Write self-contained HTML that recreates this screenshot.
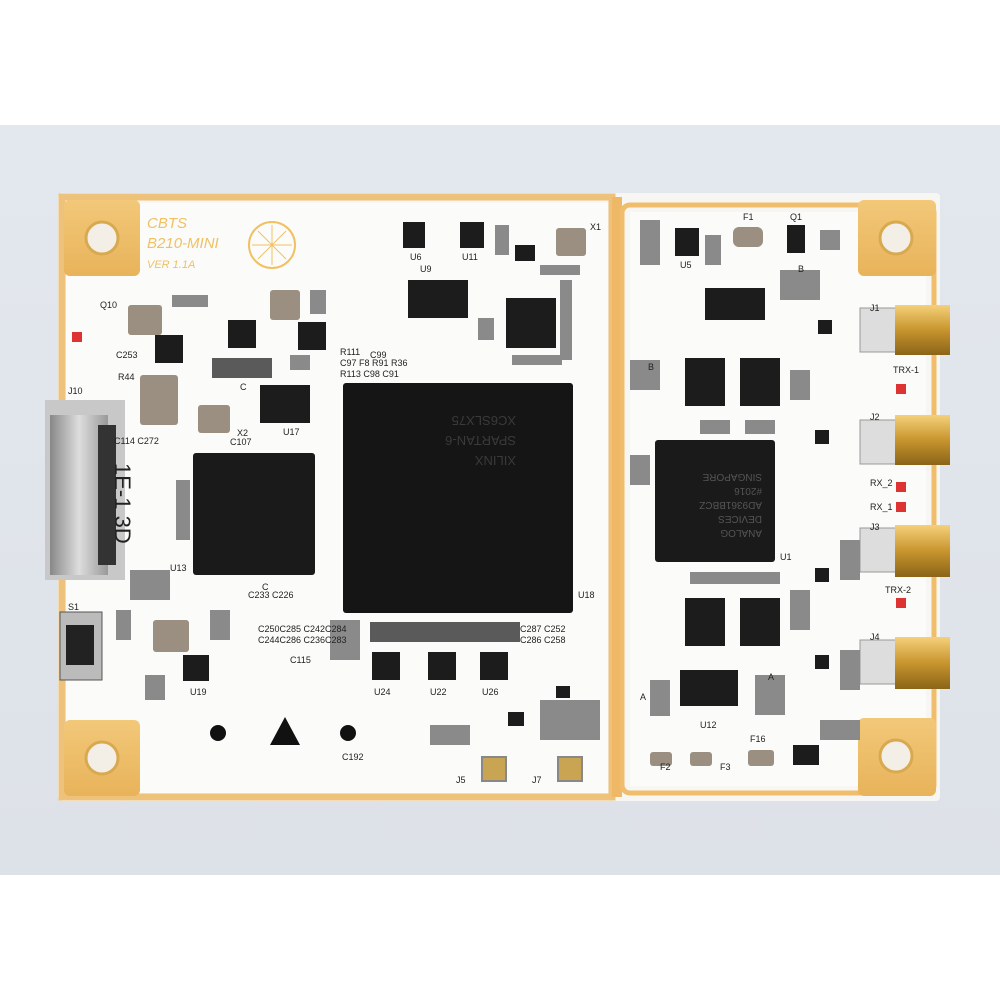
<!DOCTYPE html>
<html><head><meta charset="utf-8"><style>
html,body{margin:0;padding:0;background:#fff;}
svg{display:block}
text{font-family:"Liberation Sans",sans-serif;}
</style></head><body>
<svg width="1000" height="1000" viewBox="0 0 1000 1000" xmlns="http://www.w3.org/2000/svg">
<defs>
<linearGradient id="bg" x1="0" y1="0" x2="0" y2="1"><stop offset="0" stop-color="#e3e8ee"/><stop offset="1" stop-color="#dde2e8"/></linearGradient>
<linearGradient id="gold" x1="0" y1="0" x2="0" y2="1"><stop offset="0" stop-color="#f2c879"/><stop offset="1" stop-color="#e8b35a"/></linearGradient>
<linearGradient id="sma" x1="0" y1="0" x2="0" y2="1"><stop offset="0" stop-color="#f5d07a"/><stop offset="0.5" stop-color="#c8952e"/><stop offset="1" stop-color="#8a6418"/></linearGradient>
<linearGradient id="usb" x1="0" y1="0" x2="1" y2="0"><stop offset="0" stop-color="#888"/><stop offset="0.5" stop-color="#ddd"/><stop offset="1" stop-color="#999"/></linearGradient>
</defs>
<rect width="1000" height="1000" fill="#fff"/>
<rect y="125" width="1000" height="750" fill="url(#bg)"/>
<rect x="58" y="193" width="882" height="608" rx="4" fill="#f7f6f2"/>
<rect x="62" y="197" width="550" height="600" fill="none" stroke="#eec27a" stroke-width="7"/>
<rect x="612" y="197" width="10" height="600" fill="#eeb867"/>
<rect x="622" y="205" width="312" height="588" rx="8" fill="none" stroke="#efbd6c" stroke-width="5"/>
<rect x="630" y="212" width="296" height="574" fill="#fbfbf9"/>
<rect x="66" y="203" width="542" height="590" fill="#fbfbf9"/>
<g fill="url(#gold)">
<rect x="64" y="200" width="76" height="76" rx="6"/>
<rect x="858" y="200" width="78" height="76" rx="6"/>
<rect x="64" y="720" width="76" height="76" rx="6"/>
<rect x="858" y="718" width="78" height="78" rx="6"/>
</g>
<g fill="#f3efe6" stroke="#d9a950" stroke-width="3">
<circle cx="102" cy="238" r="16"/><circle cx="896" cy="238" r="16"/>
<circle cx="102" cy="758" r="16"/><circle cx="896" cy="756" r="16"/>
</g>
<text x="147" y="228" font-size="15" fill="#f0c063" font-style="italic">CBTS</text>
<text x="147" y="248" font-size="15" fill="#f0c063" font-style="italic">B210-MINI</text>
<text x="147" y="268" font-size="11" fill="#f0c063" font-style="italic">VER 1.1A</text>
<circle cx="272" cy="245" r="23" fill="none" stroke="#f0c063" stroke-width="2"/>
<path d="M252 245 H292 M272 225 V265 M258 231 L286 259 M258 259 L286 231" stroke="#f0c063" stroke-width="1" fill="none"/>
<rect x="343" y="383" width="230" height="230" rx="3" fill="#151515"/>
<g fill="#3a3a3a" font-size="13" transform="rotate(180 458 498)">
<text x="400" y="540">XILINX</text><text x="400" y="560">SPARTAN-6</text><text x="400" y="580">XC6SLX75</text>
</g>
<rect x="193" y="453" width="122" height="122" rx="3" fill="#1a1a1a"/>
<rect x="655" y="440" width="120" height="122" rx="3" fill="#1a1a1a"/>
<g fill="#555" font-size="10" transform="rotate(180 715 500)">
<text x="668" y="470">ANALOG</text><text x="668" y="484">DEVICES</text><text x="668" y="498">AD9361BBCZ</text><text x="668" y="512">#2016</text><text x="668" y="526">SINGAPORE</text>
</g>
<rect x="45" y="400" width="80" height="180" fill="#c8c8c8"/>
<rect x="50" y="415" width="58" height="160" fill="url(#usb)"/>
<rect x="98" y="425" width="18" height="140" fill="#333"/>
<text x="58" y="440" font-size="22" fill="#222" transform="rotate(90 75 480)">1E-1 3D</text>
<g>
<rect x="860" y="308" width="40" height="44" fill="#ddd" stroke="#999"/><rect x="895" y="305" width="55" height="50" fill="url(#sma)"/>
<rect x="860" y="420" width="40" height="44" fill="#ddd" stroke="#999"/><rect x="895" y="415" width="55" height="50" fill="url(#sma)"/>
<rect x="860" y="528" width="40" height="44" fill="#ddd" stroke="#999"/><rect x="895" y="525" width="55" height="52" fill="url(#sma)"/>
<rect x="860" y="640" width="40" height="44" fill="#ddd" stroke="#999"/><rect x="895" y="637" width="55" height="52" fill="url(#sma)"/>
</g>
<g fill="#1c1c1c">
<rect x="403" y="222" width="22" height="26"/><rect x="460" y="222" width="24" height="26"/>
<rect x="408" y="280" width="60" height="38"/><rect x="506" y="298" width="50" height="50"/>
<rect x="260" y="385" width="50" height="38"/><rect x="228" y="320" width="28" height="28"/>
<rect x="298" y="322" width="28" height="28"/><rect x="155" y="335" width="28" height="28"/>
<rect x="675" y="228" width="24" height="28"/><rect x="787" y="225" width="18" height="28"/>
<rect x="705" y="288" width="60" height="32"/><rect x="685" y="358" width="40" height="48"/>
<rect x="740" y="358" width="40" height="48"/><rect x="685" y="598" width="40" height="48"/>
<rect x="740" y="598" width="40" height="48"/><rect x="680" y="670" width="58" height="36"/>
<rect x="372" y="652" width="28" height="28"/><rect x="428" y="652" width="28" height="28"/>
<rect x="480" y="652" width="28" height="28"/><rect x="183" y="655" width="26" height="26"/>
<rect x="515" y="245" width="20" height="16"/><rect x="815" y="430" width="14" height="14"/>
<rect x="815" y="568" width="14" height="14"/><rect x="815" y="655" width="14" height="14"/>
<rect x="508" y="712" width="16" height="14"/><rect x="793" y="745" width="26" height="20"/>
<rect x="818" y="320" width="14" height="14"/><rect x="556" y="686" width="14" height="12"/>
</g>
<g fill="#9a8f80">
<rect x="128" y="305" width="34" height="30" rx="3"/><rect x="270" y="290" width="30" height="30" rx="3"/>
<rect x="198" y="405" width="32" height="28" rx="3"/><rect x="153" y="620" width="36" height="32" rx="3"/>
<rect x="556" y="228" width="30" height="28" rx="3"/><rect x="733" y="227" width="30" height="20" rx="6"/>
<rect x="140" y="375" width="38" height="50" rx="3"/><rect x="650" y="752" width="22" height="14" rx="3"/>
<rect x="690" y="752" width="22" height="14" rx="3"/><rect x="748" y="750" width="26" height="16" rx="3"/>
</g>
<g fill="#5a5a5a">
<rect x="370" y="622" width="150" height="20"/><rect x="212" y="358" width="60" height="20"/>
</g>
<!-- small passives clutter -->
<g fill="#8a8a8a">
<rect x="172" y="295" width="36" height="12"/><rect x="310" y="290" width="16" height="24"/>
<rect x="495" y="225" width="14" height="30"/><rect x="540" y="265" width="40" height="10"/>
<rect x="560" y="280" width="12" height="80"/><rect x="478" y="318" width="16" height="22"/>
<rect x="512" y="355" width="50" height="10"/><rect x="640" y="220" width="20" height="45"/>
<rect x="705" y="235" width="16" height="30"/><rect x="820" y="230" width="20" height="20"/>
<rect x="780" y="270" width="40" height="30"/><rect x="700" y="420" width="30" height="14"/>
<rect x="745" y="420" width="30" height="14"/><rect x="630" y="360" width="30" height="30"/>
<rect x="790" y="370" width="20" height="30"/><rect x="630" y="455" width="20" height="30"/>
<rect x="840" y="540" width="20" height="40"/><rect x="840" y="650" width="20" height="40"/>
<rect x="690" y="572" width="90" height="12"/><rect x="790" y="590" width="20" height="40"/>
<rect x="650" y="680" width="20" height="36"/><rect x="755" y="675" width="30" height="40"/>
<rect x="430" y="725" width="40" height="20"/><rect x="540" y="700" width="60" height="40"/>
<rect x="145" y="675" width="20" height="25"/><rect x="210" y="610" width="20" height="30"/>
<rect x="330" y="620" width="30" height="40"/><rect x="290" y="355" width="20" height="15"/>
<rect x="130" y="570" width="40" height="30"/><rect x="116" y="610" width="15" height="30"/>
<rect x="176" y="480" width="14" height="60"/><rect x="820" y="720" width="40" height="20"/>
</g>
<polygon points="285,717 270,745 300,745" fill="#111"/>
<circle cx="218" cy="733" r="8" fill="#111"/><circle cx="348" cy="733" r="8" fill="#111"/>
<g fill="#c9a453" stroke="#888" stroke-width="2"><rect x="482" y="757" width="24" height="24"/><rect x="558" y="757" width="24" height="24"/></g>
<rect x="60" y="612" width="42" height="68" fill="#bbb" stroke="#555"/><rect x="66" y="625" width="28" height="40" fill="#222"/>
<g fill="#d33"><rect x="896" y="384" width="10" height="10"/><rect x="896" y="482" width="10" height="10"/><rect x="896" y="502" width="10" height="10"/><rect x="896" y="598" width="10" height="10"/><rect x="72" y="332" width="10" height="10"/></g>
<g font-size="9" fill="#222">
<text x="893" y="373">TRX-1</text><text x="870" y="486">RX_2</text><text x="870" y="510">RX_1</text><text x="885" y="593">TRX-2</text>
<text x="870" y="311">J1</text><text x="870" y="420">J2</text><text x="870" y="530">J3</text><text x="870" y="640">J4</text>
<text x="68" y="394">J10</text><text x="68" y="610">S1</text><text x="170" y="571">U13</text><text x="578" y="598">U18</text>
<text x="780" y="560">U1</text><text x="456" y="783">J5</text><text x="532" y="783">J7</text><text x="283" y="435">U17</text>
<text x="237" y="436">X2</text><text x="590" y="230">X1</text><text x="190" y="695">U19</text><text x="374" y="695">U24</text>
<text x="430" y="695">U22</text><text x="482" y="695">U26</text><text x="700" y="728">U12</text><text x="680" y="268">U5</text>
<text x="410" y="260">U6</text><text x="462" y="260">U11</text><text x="420" y="272">U9</text><text x="342" y="760">C192</text>
<text x="100" y="308">Q10</text><text x="790" y="220">Q1</text><text x="743" y="220">F1</text><text x="750" y="742">F16</text>
<text x="660" y="770">F2</text><text x="720" y="770">F3</text><text x="370" y="358">C99</text><text x="340" y="366">C97 F8 R91 R36</text>
<text x="340" y="355">R111</text><text x="340" y="377">R113 C98 C91</text><text x="248" y="598">C233 C226</text>
<text x="258" y="632">C250C285 C242C284</text><text x="258" y="643">C244C286 C236C283</text><text x="520" y="632">C287 C252</text>
<text x="520" y="643">C286 C258</text><text x="290" y="663">C115</text><text x="118" y="380">R44</text><text x="116" y="358">C253</text>
<text x="114" y="444">C114 C272</text><text x="230" y="445">C107</text><text x="640" y="700">A</text><text x="648" y="370">B</text>
<text x="798" y="272">B</text><text x="768" y="680">A</text><text x="262" y="590">C</text><text x="240" y="390">C</text>
</g>
</svg>
</body></html>
